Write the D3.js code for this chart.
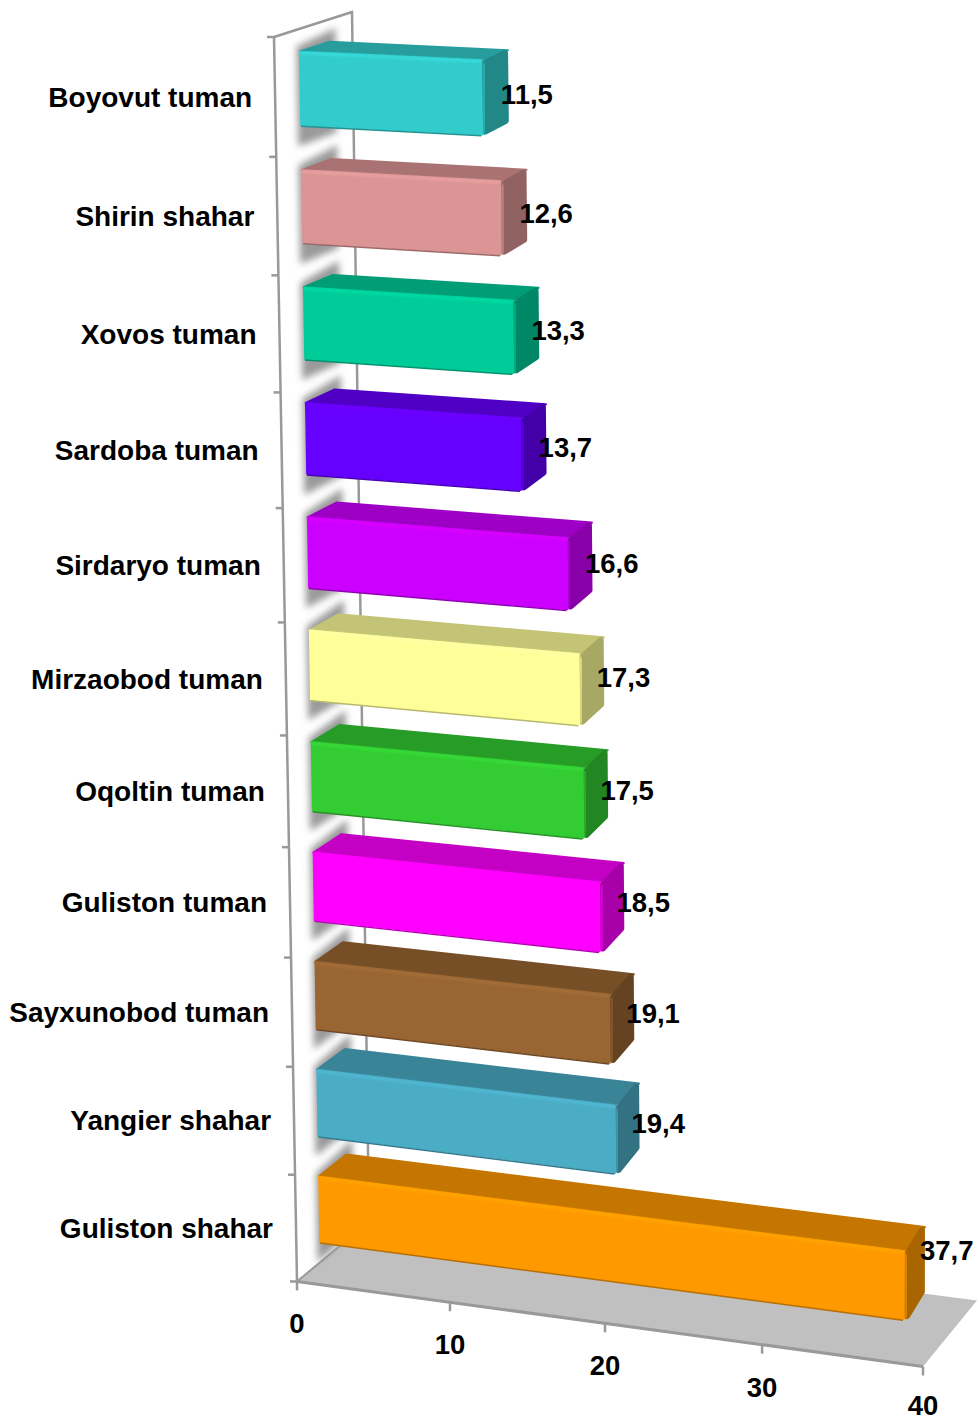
<!DOCTYPE html>
<html>
<head>
<meta charset="utf-8">
<script src="https://d3js.org/d3.v7.min.js"></script>
<style>
html, body { margin: 0; padding: 0; background: #fff; }
text { font-family: "Liberation Sans", Arial, sans-serif; font-weight: bold; fill: #000; }
</style>
</head>
<body>
<script>
var categories = ["Boyovut tuman", "Shirin shahar", "Xovos tuman", "Sardoba tuman", "Sirdaryo tuman",
    "Mirzaobod tuman", "Oqoltin tuman", "Guliston tuman", "Sayxunobod tuman", "Yangier shahar", "Guliston shahar"];
var values = [11.5, 12.6, 13.3, 13.7, 16.6, 17.3, 17.5, 18.5, 19.1, 19.4, 37.7];
var palette = ["#33CCCC", "#DB9595", "#00CC99", "#6600FF", "#CC00FF", "#FFFF99",
    "#33CC33", "#FF00FF", "#996633", "#4BACC6", "#FF9900"];
var axisTicks = [0, 10, 20, 30, 40];

var width = 977;
var height = 1422;

var svg = d3.select("body")
    .append("svg")
    .attr("width", width)
    .attr("height", height)
    .style("display", "block");

var defs = svg.append("defs");
defs.append("filter").attr("id", "blur")
    .attr("x", "-50%").attr("y", "-50%").attr("width", "200%").attr("height", "200%")
    .append("feGaussianBlur").attr("stdDeviation", 3.5);
defs.append("filter").attr("id", "soft")
    .attr("x", "-50%").attr("y", "-10%").attr("width", "200%").attr("height", "120%")
    .append("feGaussianBlur").attr("stdDeviation", 0.8);

// corners of the 3d box: [value end][row end][depth end]
var corners = {
    ftl: [274, 37], ftr: [929, 67], btl: [352, 12], btr: [979, 40],
    fbl: [297, 1281], fbr: [923, 1366], bbl: [369, 1221], bbr: [977, 1300]
};

// the foreshortening along the value axis
var valueScale = d3.scaleLinear().domain(axisTicks).range([0, 0.2444, 0.492, 0.743, 1]);
var color = d3.scaleOrdinal(categories, palette);

function rowWarp(s) {
    return (s * 120.6 / (1 + 0.006 * s)) / 1244;
}

function lerp(a, b, t) {
    return [a[0] + (b[0] - a[0]) * t, a[1] + (b[1] - a[1]) * t];
}

function project(v, s, d) {
    var u = valueScale(v), w = rowWarp(s);
    var top = lerp(lerp(corners.ftl, corners.ftr, u), lerp(corners.btl, corners.btr, u), d);
    var bottom = lerp(lerp(corners.fbl, corners.fbr, u), lerp(corners.bbl, corners.bbr, u), d);
    return lerp(top, bottom, w);
}

function shade(c, k) {
    var r = d3.rgb(c);
    return d3.rgb(r.r * k, r.g * k, r.b * k).formatHex();
}

// pull a polygon in, the round stroke then gives it back with soft corners
function inset(points, n) {
    var cx = d3.mean(points, function(p) { return p[0]; });
    var cy = d3.mean(points, function(p) { return p[1]; });
    return points.map(function(p) {
        return [p[0] + (p[0] < cx ? n : -n), p[1] + (p[1] < cy ? n : -n)];
    });
}

var line = d3.line();
var nRows = categories.length;

function grayLine(points, w) {
    svg.append("path")
        .attr("d", line(points))
        .attr("fill", "none")
        .attr("stroke", "#999")
        .attr("stroke-width", w);
}

// floor
svg.append("path")
    .attr("d", line([project(0, nRows, 0), project(40, nRows, 0), project(40, nRows, 1), project(0, nRows, 1)]) + "Z")
    .attr("fill", "#c0c0c0");

// wall frame
grayLine([project(0, 0, 0), project(0, nRows, 0)], 2.5);
grayLine([project(0, 0, 0), project(0, 0, 1), project(0, nRows, 1)], 2.5);
grayLine([project(0, nRows, 0), project(40, nRows, 0)], 3);
grayLine([project(0, nRows, 0), project(0, nRows, 1)], 2);

// row ticks on the wall
d3.range(nRows + 1).forEach(function(i) {
    var p = project(0, i, 0);
    grayLine([[p[0] - 7, p[1]], p], 2.5);
});

// value ticks on the floor
axisTicks.forEach(function(t) {
    var p = project(t, nRows, 0);
    grayLine([p, [p[0], p[1] + 9]], 2.5);
    svg.append("text")
        .attr("x", p[0])
        // keep the last label inside the page
        .attr("y", Math.min(p[1] + 42, height - 17))
        .attr("dy", "0.36em")
        .attr("text-anchor", "middle")
        .style("font-size", "27.5px")
        .text(t);
});

var s0 = 0.19, s1 = 0.81, d0 = 0.325, d1 = 0.705;

// shadows on the wall
categories.forEach(function(name, i) {
    svg.append("path")
        .attr("d", line([project(0, i + s0 - 0.1, d1 + 0.08), project(0, i + s0 - 0.05, d0 - 0.04),
            project(0, i + s1 + 0.17, d0 - 0.04), project(0, i + s1 + 0.17, d1 + 0.08)]) + "Z")
        .attr("fill", "#9a9a9a")
        .attr("filter", "url(#blur)");
});

// bars
categories.forEach(function(name, i) {
    var v = values[i], c = color(name);
    var g = svg.append("g");
    var a = s0 + i, b = s1 + i;

    var topFace = [project(0, a, d0), project(v, a, d0), project(v, a, d1), project(0, a, d1)];
    var sideFace = [project(v, a, d0), project(v, b, d0), project(v, b, d1), project(v, a, d1)];
    g.append("path").attr("d", line(topFace) + "Z")
        .attr("fill", shade(c, 0.77)).attr("stroke", shade(c, 0.77))
        .attr("stroke-width", 2).attr("stroke-linejoin", "round");
    g.append("path").attr("d", line(inset(sideFace, 3)) + "Z")
        .attr("fill", shade(c, 0.66)).attr("stroke", shade(c, 0.66))
        .attr("stroke-width", 6).attr("stroke-linejoin", "round");

    // front
    var tl = project(0, a, d0), tr = project(v, a, d0), br = project(v, b, d0), bl = project(0, b, d0);
    g.append("path").attr("d", line([tl, tr, br, bl]) + "Z")
        .attr("fill", c).attr("stroke", c)
        .attr("stroke-width", 1.5).attr("stroke-linejoin", "round");

    // bevel edges
    g.append("path").attr("d", line([[tl[0], tl[1] + 1.5], [tr[0], tr[1] + 1.5]]))
        .attr("fill", "none").attr("stroke", d3.rgb(c).brighter(0.22).formatHex()).attr("stroke-width", 2.5)
        .attr("filter", "url(#soft)");
    g.append("path").attr("d", line([[bl[0], bl[1] + 1], [br[0] - 1, br[1] + 1]]))
        .attr("fill", "none").attr("stroke", shade(c, 0.72)).attr("stroke-width", 1.5);
    g.append("path").attr("d", line([[tr[0] + 2, tr[1] + 3], [br[0] + 2, br[1] - 1]]))
        .attr("fill", "none").attr("stroke", shade(c, 0.86)).attr("stroke-width", 4)
        .attr("filter", "url(#soft)");
});

// category labels
categories.forEach(function(name, i) {
    var p = project(0, i + 0.5, 0);
    svg.append("text")
        .attr("x", p[0] - 23)
        .attr("y", p[1] - 0.5)
        .attr("dy", "0.36em")
        .attr("text-anchor", "end")
        .style("font-size", "28px")
        .text(name);
});

// value labels
categories.forEach(function(name, i) {
    var v = values[i];
    var p = project(v, i + 0.5, 0.325);
    svg.append("text")
        .attr("x", p[0] + 17 + 2 - i * 0.3)
        .attr("y", p[1] - (v - 5) + 3 - i * 0.55)
        .attr("dy", "0.36em")
        .style("font-size", "27.5px")
        .text(String(v).replace(".", ","));
});
</script>
</body>
</html>
